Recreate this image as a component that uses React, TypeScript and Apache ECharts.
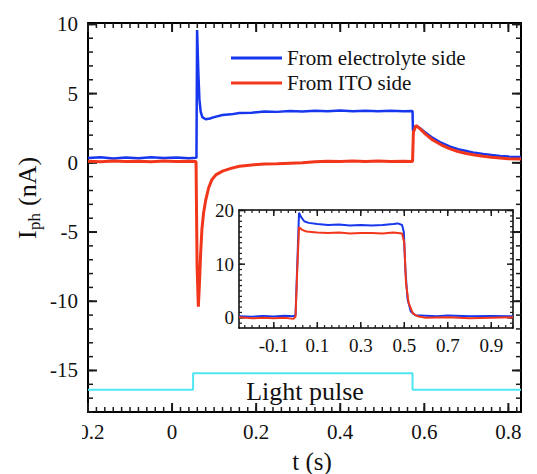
import React, { useEffect, useRef } from "react";
import * as echarts from "echarts";

// ---------- data ----------
const mainXTicks = [-0.2, 0, 0.2, 0.4, 0.6, 0.8];
const mainYTicks = [-15, -10, -5, 0, 5, 10];
const insetXTicks = [-0.1, 0.1, 0.3, 0.5, 0.7, 0.9];
const insetYTicks = [0, 10, 20];

const seriesNames = ["From electrolyte side", "From ITO side"];

// main panel: t (s), I_ph (nA)
const mainElectrolyte: [number, number][] = [
  [-0.2, 0.35], [-0.17, 0.4], [-0.14, 0.32], [-0.11, 0.38], [-0.08, 0.33], [-0.05, 0.4],
  [-0.02, 0.34], [0.01, 0.38], [0.04, 0.33], [0.058, 0.36], [0.0595, 9.6], [0.0625, 6.5],
  [0.065, 4.6], [0.068, 3.7], [0.072, 3.3], [0.08, 3.15], [0.09, 3.2], [0.1, 3.3],
  [0.12, 3.45], [0.14, 3.5], [0.16, 3.6], [0.19, 3.62], [0.22, 3.7], [0.25, 3.68],
  [0.28, 3.75], [0.31, 3.7], [0.34, 3.76], [0.37, 3.72], [0.4, 3.78], [0.43, 3.72],
  [0.46, 3.76], [0.49, 3.73], [0.52, 3.77], [0.55, 3.72], [0.572, 3.75], [0.573, 2.3],
  [0.577, 2.55], [0.582, 2.65], [0.59, 2.5], [0.6, 2.25], [0.62, 1.8], [0.64, 1.45],
  [0.66, 1.18], [0.68, 0.98], [0.7, 0.85], [0.72, 0.72], [0.74, 0.63], [0.76, 0.56],
  [0.78, 0.5], [0.8, 0.46], [0.83, 0.42],
];
const mainITO: [number, number][] = [
  [-0.2, 0.12], [-0.17, 0.08], [-0.14, 0.14], [-0.11, 0.1], [-0.08, 0.12], [-0.05, 0.08],
  [-0.02, 0.13], [0.01, 0.1], [0.04, 0.12], [0.057, 0.1], [0.0595, -7.5], [0.0625, -10.4],
  [0.065, -8.8], [0.068, -6.5], [0.071, -4.8], [0.075, -3.6], [0.08, -2.7], [0.087, -1.8],
  [0.095, -1.2], [0.105, -0.85], [0.12, -0.6], [0.14, -0.4], [0.16, -0.25], [0.19, -0.15],
  [0.22, -0.08], [0.25, -0.06], [0.28, -0.03], [0.31, 0.0], [0.34, 0.08], [0.37, 0.12],
  [0.4, 0.1], [0.43, 0.14], [0.46, 0.1], [0.49, 0.13], [0.52, 0.1], [0.55, 0.12],
  [0.572, 0.1], [0.574, 2.2], [0.58, 2.7], [0.59, 2.45], [0.6, 2.15], [0.62, 1.65],
  [0.64, 1.3], [0.66, 1.02], [0.68, 0.82], [0.7, 0.67], [0.72, 0.56], [0.74, 0.47],
  [0.76, 0.4], [0.78, 0.35], [0.8, 0.3], [0.83, 0.27],
];
const lightPulse: [number, number][] = [
  [-0.2, -16.4], [0.05, -16.4], [0.05, -15.2], [0.572, -15.2], [0.572, -16.4], [0.83, -16.4],
];

// inset panel
const insetElectrolyte: [number, number][] = [
  [-0.26, 0.3], [-0.2, 0.2], [-0.15, 0.35], [-0.1, 0.25], [-0.05, 0.4], [-0.01, 0.3],
  [0.0, 0.5], [0.008, 10], [0.016, 19.6], [0.025, 18.8], [0.04, 18.0], [0.06, 17.7],
  [0.1, 17.5], [0.15, 17.3], [0.2, 17.4], [0.25, 17.2], [0.3, 17.3], [0.35, 17.2],
  [0.4, 17.3], [0.45, 17.5], [0.47, 17.6], [0.49, 17.3], [0.498, 16], [0.505, 9],
  [0.515, 3.5], [0.53, 1.2], [0.55, 0.5], [0.6, 0.4], [0.65, 0.3], [0.7, 0.45],
  [0.8, 0.3], [0.9, 0.35], [1.0, 0.3],
];
const insetITO: [number, number][] = [
  [-0.26, 0.1], [-0.2, -0.1], [-0.15, 0.0], [-0.1, -0.1], [-0.05, 0.0], [-0.01, -0.2],
  [0.0, 0.2], [0.008, 9], [0.016, 16.9], [0.03, 16.4], [0.05, 16.1], [0.1, 15.9],
  [0.15, 15.8], [0.2, 15.9], [0.25, 15.7], [0.3, 15.8], [0.35, 15.8], [0.4, 15.7],
  [0.45, 15.9], [0.49, 15.7], [0.5, 14], [0.508, 6.4], [0.52, 2.8], [0.54, 0.8],
  [0.56, 0.3], [0.6, 0.0], [0.7, 0.1], [0.8, -0.1], [0.9, 0.0], [1.0, 0.1],
];

// ---------- styling helpers ----------
const FONT = "Liberation Serif";
const BLUE = "#1637ee";
const RED = "#f2361c";
const CYAN = "#4de6f2";
const TICK = "#1a1a1a";

const MAIN_X: [number, number] = [-0.2, 0.83];
const MAIN_Y: [number, number] = [-18, 10.1];
const INSET_X: [number, number] = [-0.26, 1.0];
const INSET_Y: [number, number] = [-1.9, 20.1];

function steps(from: number, to: number, step: number): number[] {
  const out: number[] = [];
  const n = Math.floor((to - from) / step + 1e-9);
  for (let i = 0; i <= n; i++) out.push(Math.round((from + i * step) * 1e6) / 1e6);
  return out;
}

// custom series: inside ticks along one side of one grid
function sideTicks(
  side: "bottom" | "top" | "left" | "right",
  axisIndex: number,
  xr: [number, number],
  yr: [number, number],
  values: number[],
  len: number,
  lineWidth: number
) {
  const isX = side === "bottom" || side === "top";
  const r = isX ? xr : yr;
  const vals = values.filter((v) => v >= r[0] - 1e-9 && v <= r[1] + 1e-9);
  const edge = side === "bottom" ? yr[0] : side === "top" ? yr[1] : side === "left" ? xr[0] : xr[1];
  const data = vals.map((v) => (isX ? [v, edge] : [edge, v]));
  return {
    type: "custom",
    xAxisIndex: axisIndex,
    yAxisIndex: axisIndex,
    dimensions: ["x", "y"],
    encode: { x: 0, y: 1 },
    data,
    clip: false,
    renderItem: (_p: any, api: any) => {
      const c = api.coord([api.value(0), api.value(1)]);
      let x2 = c[0];
      let y2 = c[1];
      if (side === "bottom") y2 = c[1] - len;
      else if (side === "top") y2 = c[1] + len;
      else if (side === "left") x2 = c[0] + len;
      else x2 = c[0] - len;
      return {
        type: "line",
        shape: { x1: c[0], y1: c[1], x2, y2 },
        style: { stroke: TICK, lineWidth },
      };
    },
  };
}

function gridTicks(
  axisIndex: number,
  xr: [number, number],
  yr: [number, number],
  xMajor: number[],
  xMinor: number[],
  yMajor: number[],
  yMinor: number[],
  majorLen: number,
  minorLen: number,
  majorW: number,
  minorW: number
) {
  const out: any[] = [];
  (["bottom", "top"] as const).forEach((s) => {
    out.push(sideTicks(s, axisIndex, xr, yr, xMinor, minorLen, minorW));
    out.push(sideTicks(s, axisIndex, xr, yr, xMajor, majorLen, majorW));
  });
  (["left", "right"] as const).forEach((s) => {
    out.push(sideTicks(s, axisIndex, xr, yr, yMinor, minorLen, minorW));
    out.push(sideTicks(s, axisIndex, xr, yr, yMajor, majorLen, majorW));
  });
  return out;
}

function frameAxis(
  gridIndex: number,
  position: string,
  range: [number, number],
  labels: number[],
  showLabel: boolean,
  lineWidth: number,
  fontSize: number,
  margin: number
) {
  return {
    type: "value",
    gridIndex,
    position,
    min: range[0],
    max: range[1],
    splitLine: { show: false },
    axisLine: { show: true, onZero: false, lineStyle: { color: "#000", width: lineWidth } },
    axisTick: { show: false },
    axisLabel: {
      show: showLabel,
      customValues: labels,
      margin,
      color: "#111",
      fontFamily: FONT,
      fontSize,
    },
  };
}

export default function App() {
  const ref = useRef<HTMLDivElement>(null);

  useEffect(() => {
    if (!ref.current) return;
    const chart = echarts.init(ref.current, null, { renderer: "svg" });

    const option = {
      animation: false,
      backgroundColor: "#fff",
      grid: [
        { left: 88, right: 16, top: 23, bottom: 62 },
        { left: 239, right: 24, top: 210, bottom: 146, show: true, backgroundColor: "#fff", borderWidth: 0 },
      ],
      legend: {
        data: seriesNames,
        orient: "vertical",
        left: 226,
        top: 42,
        itemWidth: 51,
        itemHeight: 3,
        itemGap: 3,
        icon: "rect",
        textStyle: { fontFamily: FONT, fontSize: 21, color: "#111", lineHeight: 22 },
      },
      xAxis: [
        frameAxis(0, "bottom", MAIN_X, mainXTicks, true, 2, 21, 9),
        frameAxis(0, "top", MAIN_X, mainXTicks, false, 2, 21, 9),
        frameAxis(1, "bottom", INSET_X, insetXTicks, true, 1.5, 19, 8),
        frameAxis(1, "top", INSET_X, insetXTicks, false, 1.5, 19, 8),
      ],
      yAxis: [
        frameAxis(0, "left", MAIN_Y, mainYTicks, true, 2, 21, 10),
        frameAxis(0, "right", MAIN_Y, mainYTicks, false, 2, 21, 10),
        frameAxis(1, "left", INSET_Y, insetYTicks, true, 1.5, 19, 5),
        frameAxis(1, "right", INSET_Y, insetYTicks, false, 1.5, 19, 5),
      ],
      series: [
        { name: seriesNames[0], type: "line", xAxisIndex: 0, yAxisIndex: 0, data: mainElectrolyte, symbol: "none", lineStyle: { color: BLUE, width: 2.5 }, itemStyle: { color: BLUE } },
        { name: seriesNames[1], type: "line", xAxisIndex: 0, yAxisIndex: 0, data: mainITO, symbol: "none", lineStyle: { color: RED, width: 3 }, itemStyle: { color: RED } },
        { name: "Light pulse", type: "line", xAxisIndex: 0, yAxisIndex: 0, data: lightPulse, symbol: "none", lineStyle: { color: CYAN, width: 2 }, itemStyle: { color: CYAN } },
        { name: "inset electrolyte", type: "line", xAxisIndex: 2, yAxisIndex: 2, data: insetElectrolyte, symbol: "none", lineStyle: { color: BLUE, width: 2 }, itemStyle: { color: BLUE } },
        { name: "inset ITO", type: "line", xAxisIndex: 2, yAxisIndex: 2, data: insetITO, symbol: "none", lineStyle: { color: RED, width: 2 }, itemStyle: { color: RED } },
        ...gridTicks(0, MAIN_X, MAIN_Y, mainXTicks, steps(-0.2, 0.83, 0.02), mainYTicks, steps(-18, 10, 1), 9, 5, 2, 1.5),
        ...gridTicks(2, INSET_X, INSET_Y, insetXTicks, steps(-0.3, 1.0, 0.2 / 6), insetYTicks, steps(-1, 20, 1), 6, 3, 1.5, 1.2),
      ],
      graphic: [
        { type: "rect", left: 0, top: 420, shape: { width: 82, height: 28 }, style: { fill: "#fff" }, z: 100 },
        { type: "text", x: 312, y: 461, style: { text: "t (s)", fontFamily: FONT, fontSize: 25, fill: "#111", textAlign: "center", textVerticalAlign: "middle" } },
        { type: "text", x: 305, y: 391, style: { text: "Light pulse", fontFamily: FONT, fontSize: 26, fill: "#111", textAlign: "center", textVerticalAlign: "middle" } },
        {
          type: "group",
          x: 27,
          y: 198,
          rotation: Math.PI / 2,
          children: [
            { type: "text", x: -41, y: 0, style: { text: "I", fontFamily: FONT, fontSize: 26, fill: "#111", textAlign: "left", textVerticalAlign: "middle" } },
            { type: "text", x: -32, y: 7, style: { text: "ph", fontFamily: FONT, fontSize: 17, fill: "#111", textAlign: "left", textVerticalAlign: "middle" } },
            { type: "text", x: -8, y: 0, style: { text: "(nA)", fontFamily: FONT, fontSize: 26, fill: "#111", textAlign: "left", textVerticalAlign: "middle" } },
          ],
        },
      ],
    };

    chart.setOption(option as any);
    return () => chart.dispose();
  }, []);

  return <div ref={ref} style={{ width: 537, height: 474, position: "absolute", left: 0, top: 0 }} />;
}
